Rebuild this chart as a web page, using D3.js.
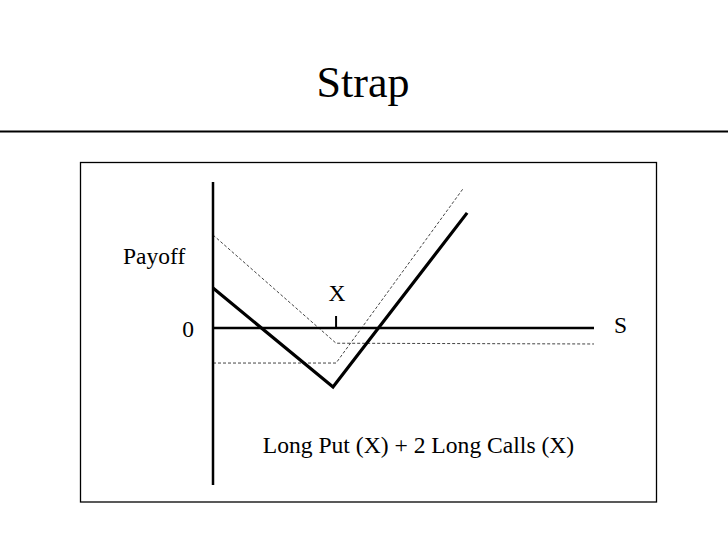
<!DOCTYPE html>
<html><head><meta charset="utf-8">
<script src="https://cdn.jsdelivr.net/npm/d3@7/dist/d3.min.js"></script>
<style>html,body{margin:0;padding:0;background:#fff;}svg{display:block;}</style>
</head><body>
<svg id="c" width="728" height="546"></svg>
<script>
// Data (payoff diagram, arbitrary units)
const strike = 32.3;
const sDomain = [0, 100];
const payoffDomain = [-41.2, 38.3];
const longPut = [[0, 24.4], [32.3, -4.0], [100, -4.2]];
const twoLongCalls = [[0, -9.2], [32.3, -9.2], [65.6, 36.5]];
const strap = [[0, 10.5], [31.5, -15.5], [66.7, 30.2]];
const labels = {title: "Strap", yLabel: "Payoff", xLabel: "S", zero: "0", strike: "X", caption: "Long Put (X) + 2 Long Calls (X)"};

const svg = d3.select("#c");
const font = "'Liberation Serif','Times New Roman',serif";

const x = d3.scaleLinear().domain(sDomain).range([213, 594]);
const y = d3.scaleLinear().domain(payoffDomain).range([485, 182]);

// title and rule
svg.append("text").attr("x", 363).attr("y", 97).attr("text-anchor", "middle")
  .attr("font-family", font).attr("font-size", 44).text(labels.title);
svg.append("line").attr("x1", 0).attr("x2", 728).attr("y1", 131.5).attr("y2", 131.5)
  .attr("stroke", "#000").attr("stroke-width", 2);

// frame
svg.append("rect").attr("x", 80.5).attr("y", 162.5).attr("width", 576).attr("height", 339.5)
  .attr("fill", "none").attr("stroke", "#000").attr("stroke-width", 1.3);

const line = d3.line().x(d => x(d[0])).y(d => y(d[1]));

// dashed component payoffs
[longPut, twoLongCalls].forEach(s => {
  svg.append("path").attr("d", line(s)).attr("fill", "none")
    .attr("stroke", "#444").attr("stroke-width", 1).attr("stroke-dasharray", "3,2");
});

// axes
svg.append("line").attr("x1", x(0)).attr("x2", x(0)).attr("y1", y(payoffDomain[1])).attr("y2", y(payoffDomain[0]))
  .attr("stroke", "#000").attr("stroke-width", 2.5);
svg.append("line").attr("x1", x(0)).attr("x2", x(sDomain[1])).attr("y1", y(0)).attr("y2", y(0))
  .attr("stroke", "#000").attr("stroke-width", 2.5);
// strike tick
svg.append("line").attr("x1", x(strike)).attr("x2", x(strike)).attr("y1", y(0)).attr("y2", y(0) - 12)
  .attr("stroke", "#000").attr("stroke-width", 2);

// strap payoff
svg.append("path").attr("d", line(strap)).attr("fill", "none")
  .attr("stroke", "#000").attr("stroke-width", 3.2).attr("stroke-linejoin", "miter");

// labels
const t = (tx, ty, s, anchor, size) => svg.append("text").attr("x", tx).attr("y", ty)
  .attr("text-anchor", anchor || "start").attr("font-family", font).attr("font-size", size || 23.5).text(s);
t(123, 264, labels.yLabel, "start", 23.5);
t(194, 337, labels.zero, "end", 23.5);
t(x(strike) + 1, 301, labels.strike, "middle", 23.5);
t(614, 333, labels.xLabel, "start", 23.5);
t(418.5, 453, labels.caption, "middle", 23.6);
</script>
</body></html>
